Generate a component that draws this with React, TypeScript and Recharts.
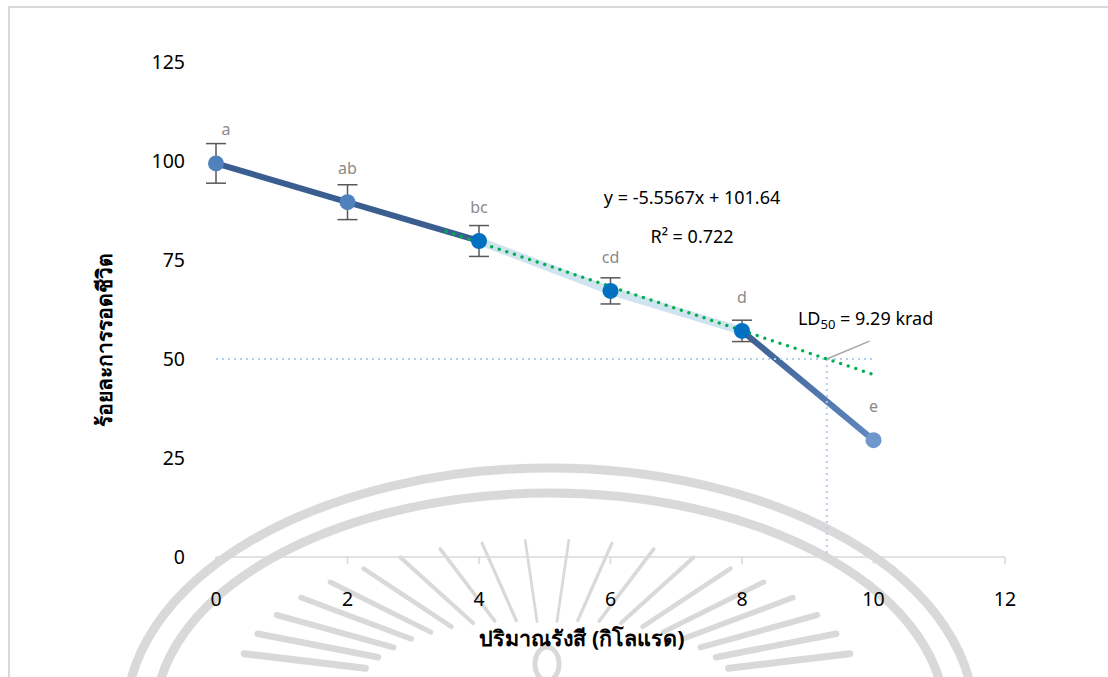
import React from 'react';
import {
  LineChart,
  Line,
  XAxis,
  YAxis,
  ErrorBar,
  LabelList,
  ReferenceDot,
} from 'recharts';

// dose in krad, survival in %
const DOSE_KRAD = [0, 2, 4, 6, 8, 10];
const SURVIVAL_PCT = [99.4, 89.6, 79.8, 67.2, 57.1, 29.5];
const SURVIVAL_SD = [5.0, 4.4, 3.9, 3.3, 2.7, 0];
const GROUP_LETTERS = ['a', 'ab', 'bc', 'cd', 'd', 'e'];
const DOT_COLORS = ['#4f81bd', '#4f81bd', '#0070c0', '#0070c0', '#0070c0', '#6e97cd'];

const X_TICKS = [0, 2, 4, 6, 8, 10, 12];
const Y_TICKS = [0, 25, 50, 75, 100, 125];

// linear trendline fitted over the 4-10 krad range
const TREND_SLOPE = -5.5567;
const TREND_INTERCEPT = 101.64;
const TREND_R2 = 0.722;
const TREND_DOSES = [3.5, 10];

const LD50_DOSE = 9.29;
const LD50_LEVEL = 50;
const LD50_LINE_END = 10;

const FONT = '"Noto Sans", "Open Sans", sans-serif';

const points = DOSE_KRAD.map((dose, i) => ({
  dose,
  survival: SURVIVAL_PCT[i],
  sd: SURVIVAL_SD[i],
  letter: GROUP_LETTERS[i],
  color: DOT_COLORS[i],
}));

const headSegment = points.filter((p) => p.dose <= 4);
const fitSegment = points.filter((p) => p.dose >= 4 && p.dose <= 8);
const tailSegment = points.filter((p) => p.dose >= 8);

const trendLine = TREND_DOSES.map((dose) => ({
  dose,
  survival: TREND_SLOPE * dose + TREND_INTERCEPT,
}));

const ld50Horizontal = [
  { dose: 0, survival: LD50_LEVEL },
  { dose: LD50_LINE_END, survival: LD50_LEVEL },
];
const ld50Vertical = [
  { dose: LD50_DOSE, survival: LD50_LEVEL },
  { dose: LD50_DOSE, survival: 0 },
];
const ld50Leader = [
  { dose: LD50_DOSE, survival: LD50_LEVEL },
  { dose: 9.94, survival: 54.5 },
];

function renderDot(props: any) {
  const { cx, cy, payload, index } = props;
  if (cx == null || cy == null) return <g key={`dot-${index}`} />;
  return <circle key={`dot-${index}`} cx={cx} cy={cy} r={8} fill={payload.color} />;
}

function renderLetter(props: any) {
  const { x, y, value, index } = props;
  return (
    <text
      key={`letter-${index}`}
      x={x + (index === 0 ? 10 : 0)}
      y={y - 34}
      textAnchor="middle"
      dominantBaseline="central"
      fill="#8a8a8a"
      fontSize={16}
      fontFamily={FONT}
    >
      {value}
    </text>
  );
}

function XTitle() {
  return (
    <text
      x={582}
      y={637}
      textAnchor="middle"
      dominantBaseline="central"
      fontSize={21.5}
      fontWeight="bold"
      fill="#000"
      fontFamily={FONT}
    >
      ปริมาณรังสี (กิโลแรด)
    </text>
  );
}

function YTitle() {
  return (
    <text
      x={104}
      y={340}
      transform="rotate(-90, 104, 340)"
      textAnchor="middle"
      dominantBaseline="central"
      fontSize={21}
      fontWeight="bold"
      fill="#000"
      fontFamily={FONT}
    >
      ร้อยละการรอดชีวิต
    </text>
  );
}

function Ld50Label(props: any) {
  const { viewBox } = props;
  return (
    <text x={viewBox.x} y={viewBox.y} dominantBaseline="central" fontSize={18} fill="#000" fontFamily={FONT}>
      <tspan>LD</tspan>
      <tspan dy={6} fontSize={13}>50</tspan>
      <tspan dy={-6}>{` = ${LD50_DOSE} krad`}</tspan>
    </text>
  );
}

// faint seal printed behind the figure
function Seal() {
  const cx = 547;
  const cy = 690;
  const rays = [];
  for (let a = 14; a <= 166; a += 8) {
    const t = (a * Math.PI) / 180;
    const side = Math.abs(a - 90) / 76;
    const inner = 0.45 + side * 0.15;
    const x1 = cx + Math.cos(t) * 312 * inner;
    const y1 = cy - Math.sin(t) * 150 * (0.45 + side * 0.15);
    const x2 = cx + Math.cos(t) * 312;
    const y2 = cy - Math.sin(t) * 150;
    rays.push(
      <line
        key={a}
        x1={x1}
        y1={y1}
        x2={x2}
        y2={y2}
        strokeWidth={2.5 + side * 4.5}
        strokeLinecap="round"
      />
    );
  }
  return (
    <svg width={1108} height={677} style={{ position: 'absolute', left: 0, top: 0 }}>
      <g fill="none" stroke="rgba(140,140,140,0.33)">
        <ellipse cx={550} cy={718} rx={424} ry={250} strokeWidth={9} />
        <ellipse cx={550} cy={718} rx={395} ry={225} strokeWidth={9} />
        {rays}
        <ellipse cx={547} cy={664} rx={12} ry={17} strokeWidth={5} />
      </g>
    </svg>
  );
}

export default function App() {
  return (
    <div
      style={{
        position: 'absolute',
        left: 0,
        top: 0,
        width: 1108,
        height: 677,
        background: '#fff',
        overflow: 'hidden',
        fontFamily: FONT,
      }}
    >
      <Seal />
      <div
        style={{
          position: 'absolute',
          left: 8,
          top: 6,
          right: 0,
          bottom: 0,
          borderTop: '2px solid #d9d9d9',
          borderLeft: '2px solid #d9d9d9',
        }}
      />
      <div style={{ position: 'absolute', left: 0, top: 0 }}>
        <LineChart
          width={1108}
          height={677}
          margin={{ top: 62, right: 103, bottom: 60, left: 0 }}
        >
          <defs>
            <linearGradient id="tailStroke" x1="0" y1="0" x2="1" y2="1">
              <stop offset="0%" stopColor="#3b5f91" />
              <stop offset="100%" stopColor="#6088bf" />
            </linearGradient>
          </defs>
          <XAxis
            dataKey="dose"
            type="number"
            domain={[0, 12]}
            ticks={X_TICKS}
            height={60}
            stroke="#d9d9d9"
            strokeWidth={1.5}
            tickSize={7}
            tickMargin={28}
            tick={{ fill: '#000', fontSize: 19.5, fontFamily: FONT }}
            label={{ content: <XTitle /> }}
          />
          <YAxis
            dataKey="survival"
            type="number"
            domain={[0, 125]}
            ticks={Y_TICKS}
            width={216}
            axisLine={false}
            tickLine={false}
            tickMargin={25}
            tick={{ fill: '#000', fontSize: 19.5, fontFamily: FONT }}
            label={{ content: <YTitle /> }}
          />

          <Line
            data={fitSegment}
            dataKey="survival"
            stroke="#d0e4ef"
            strokeWidth={8}
            dot={false}
            activeDot={false}
            isAnimationActive={false}
          />
          <Line
            data={headSegment}
            dataKey="survival"
            stroke="#3a5e8f"
            strokeWidth={6}
            dot={false}
            activeDot={false}
            isAnimationActive={false}
          />
          <Line
            data={tailSegment}
            dataKey="survival"
            stroke="url(#tailStroke)"
            strokeWidth={6}
            dot={false}
            activeDot={false}
            isAnimationActive={false}
          />
          <Line
            data={ld50Horizontal}
            dataKey="survival"
            stroke="#b4cfee"
            strokeWidth={2}
            strokeDasharray="2 4"
            dot={false}
            activeDot={false}
            isAnimationActive={false}
          />
          <Line
            data={ld50Vertical}
            dataKey="survival"
            stroke="#b4cfee"
            strokeWidth={2}
            strokeDasharray="2 4"
            dot={false}
            activeDot={false}
            isAnimationActive={false}
          />
          <Line
            data={ld50Leader}
            dataKey="survival"
            stroke="#a6a6a6"
            strokeWidth={1.5}
            dot={false}
            activeDot={false}
            isAnimationActive={false}
          />
          <Line
            data={trendLine}
            dataKey="survival"
            stroke="#00b050"
            strokeWidth={3.5}
            strokeLinecap="round"
            strokeDasharray="0 8"
            dot={false}
            activeDot={false}
            isAnimationActive={false}
          />
          <Line
            data={points}
            dataKey="survival"
            stroke="none"
            dot={renderDot}
            activeDot={false}
            isAnimationActive={false}
          >
            <ErrorBar dataKey="sd" width={10} stroke="#595959" strokeWidth={1.5} direction="y" />
            <LabelList dataKey="letter" content={renderLetter} />
          </Line>

          <ReferenceDot
            x={7.24}
            y={90.7}
            r={0}
            fill="none"
            stroke="none"
            label={{
              value: `y = ${TREND_SLOPE}x + ${TREND_INTERCEPT}`,
              position: 'center',
              fill: '#000',
              fontSize: 18,
              fontFamily: FONT,
            }}
          />
          <ReferenceDot
            x={7.24}
            y={80.8}
            r={0}
            fill="none"
            stroke="none"
            label={{
              value: `R² = ${TREND_R2}`,
              position: 'center',
              fill: '#000',
              fontSize: 18,
              fontFamily: FONT,
            }}
          />
          <ReferenceDot
            x={8.85}
            y={60.4}
            r={0}
            fill="none"
            stroke="none"
            label={{ content: <Ld50Label /> }}
          />
        </LineChart>
      </div>
    </div>
  );
}
